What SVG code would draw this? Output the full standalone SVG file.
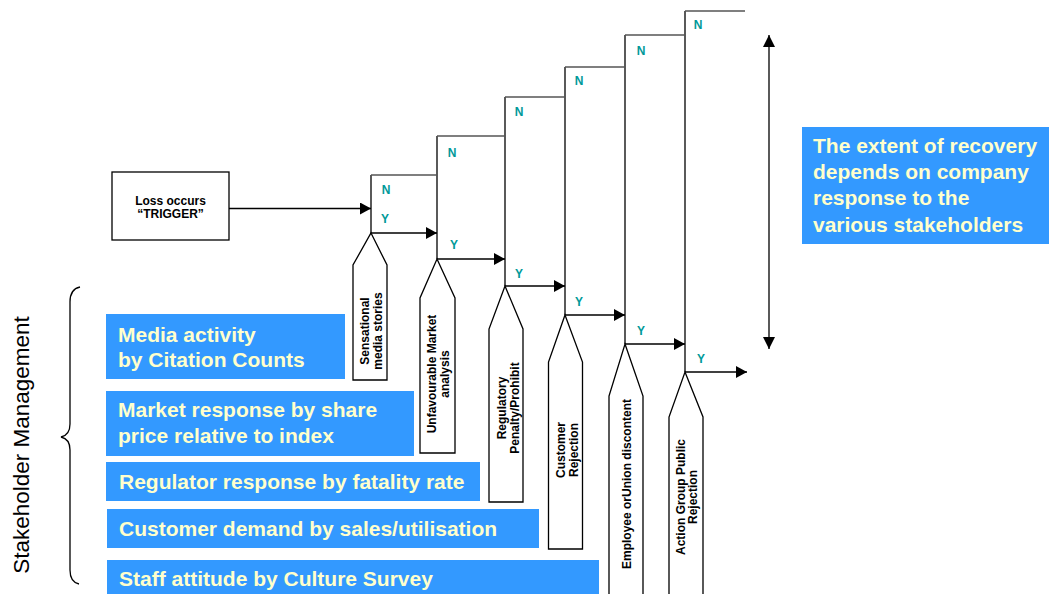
<svg xmlns="http://www.w3.org/2000/svg" width="1049" height="594" viewBox="0 0 1049 594">
<style>
  .ln { stroke:#000; stroke-width:1.3; fill:none; }
  .tp { stroke:#555; stroke-width:1.6; fill:none; }
  .box { fill:#fff; stroke:#000; stroke-width:1.3; }
  .tag { fill:#fff; stroke:#000; stroke-width:1.3; }
  .t12 { font-family:"Liberation Sans", Arial, sans-serif; font-size:12px; font-weight:bold; fill:#000; text-anchor:middle; }
  .ny { font-family:"Liberation Sans", Arial, sans-serif; font-size:12px; font-weight:bold; fill:#009999; text-anchor:middle; }
  .blue { fill:#3399FF; }
  .bt { font-family:"Liberation Sans", Arial, sans-serif; font-size:21px; font-weight:bold; fill:#FFFFCC; }
  .side { font-family:"Liberation Sans", Arial, sans-serif; font-size:22.5px; fill:#000; text-anchor:middle; }
</style>
<defs>
  <marker id="ah" markerUnits="userSpaceOnUse" markerWidth="11" markerHeight="12" viewBox="0 0 11 12" refX="11" refY="6" orient="auto">
    <path d="M0,0 L11,6 L0,12 z" fill="#000"/>
  </marker>
  <marker id="ah2" markerUnits="userSpaceOnUse" markerWidth="12" markerHeight="12" viewBox="0 0 12 12" refX="12" refY="6" orient="auto-start-reverse">
    <path d="M0,0 L12,6 L0,12 z" fill="#000"/>
  </marker>
</defs>

<!-- Trigger -->
<g id="trigger">
  <rect class="box" x="112" y="172" width="117" height="68"/>
  <text class="t12" x="170.5" y="205">Loss occurs</text>
  <text class="t12" x="170.5" y="218">“TRIGGER”</text>
</g>

<!-- Connectors -->
<g id="connectors">
  <line class="ln" x1="229" y1="208.5" x2="371" y2="208.5" marker-end="url(#ah)"/>
  <!-- verticals -->
  <line class="ln" x1="371" y1="175" x2="371" y2="233"/>
  <line class="ln" x1="437" y1="136" x2="437" y2="259"/>
  <line class="ln" x1="505" y1="97" x2="505" y2="286"/>
  <line class="ln" x1="565" y1="67" x2="565" y2="315"/>
  <line class="ln" x1="625" y1="35" x2="625" y2="344"/>
  <line class="ln" x1="685" y1="11" x2="685" y2="372"/>
  <!-- tops (N) -->
  <line class="tp" x1="371" y1="175" x2="437" y2="175"/>
  <line class="tp" x1="437" y1="136" x2="505" y2="136"/>
  <line class="tp" x1="505" y1="97" x2="565" y2="97"/>
  <line class="tp" x1="565" y1="67" x2="625" y2="67"/>
  <line class="tp" x1="625" y1="35" x2="685" y2="35"/>
  <line class="tp" x1="685" y1="11" x2="745" y2="11"/>
  <!-- Y arrows -->
  <line class="ln" x1="371" y1="233" x2="437" y2="233" marker-end="url(#ah)"/>
  <line class="ln" x1="437" y1="259" x2="505" y2="259" marker-end="url(#ah)"/>
  <line class="ln" x1="505" y1="286" x2="565" y2="286" marker-end="url(#ah)"/>
  <line class="ln" x1="565" y1="315" x2="625" y2="315" marker-end="url(#ah)"/>
  <line class="ln" x1="625" y1="344" x2="685" y2="344" marker-end="url(#ah)"/>
  <line class="ln" x1="685" y1="372" x2="747" y2="372" marker-end="url(#ah)"/>
  <!-- extent double arrow -->
  <line class="ln" x1="769" y1="35" x2="769" y2="349" marker-start="url(#ah2)" marker-end="url(#ah2)"/>
</g>

<!-- N / Y labels -->
<g id="ny-labels">
  <text class="ny" x="386" y="193.5">N</text>
  <text class="ny" x="385" y="222.5">Y</text>
  <text class="ny" x="452" y="156.5">N</text>
  <text class="ny" x="454" y="248.5">Y</text>
  <text class="ny" x="519" y="115.5">N</text>
  <text class="ny" x="519" y="277.5">Y</text>
  <text class="ny" x="579" y="84.5">N</text>
  <text class="ny" x="579" y="305.5">Y</text>
  <text class="ny" x="641" y="54.5">N</text>
  <text class="ny" x="641" y="334.5">Y</text>
  <text class="ny" x="698" y="28.5">N</text>
  <text class="ny" x="701" y="362.5">Y</text>
</g>

<!-- Tags -->
<g id="tag-media">
  <path class="tag" d="M371,233 L387,265 L387,380 L353,380 L353,265 Z"/>
  <text class="t12" transform="translate(369,331) rotate(-90)">Sensational</text>
  <text class="t12" transform="translate(382,331) rotate(-90)">media stories</text>
</g>
<g id="tag-market">
  <path class="tag" d="M437,259 L455,298 L455,453 L420,453 L420,298 Z"/>
  <text class="t12" transform="translate(436,374) rotate(-90)">Unfavourable Market</text>
  <text class="t12" transform="translate(449,374) rotate(-90)">analysis</text>
</g>
<g id="tag-regulatory">
  <path class="tag" d="M505,286 L523,329 L523,502 L489,502 L489,329 Z"/>
  <text class="t12" transform="translate(505.5,408) rotate(-90)">Regulatory</text>
  <text class="t12" transform="translate(518.5,408) rotate(-90)">Penalty/Prohibit</text>
</g>
<g id="tag-customer">
  <path class="tag" d="M565,315 L582.5,362 L582.5,549 L548.5,549 L548.5,362 Z"/>
  <text class="t12" transform="translate(565,450) rotate(-90)">Customer</text>
  <text class="t12" transform="translate(578,450) rotate(-90)">Rejection</text>
</g>
<g id="tag-employee">
  <path class="tag" d="M625,344 L643,396 L643,600 L609,600 L609,396 Z"/>
  <text class="t12" transform="translate(631,484) rotate(-90)">Employee orUnion discontent</text>
</g>
<g id="tag-action">
  <path class="tag" d="M685,372 L703,417 L703,600 L669,600 L669,417 Z"/>
  <text class="t12" transform="translate(684.5,497) rotate(-90)">Action Group Public</text>
  <text class="t12" transform="translate(697,497) rotate(-90)">Rejection</text>
</g>

<!-- Blue measure boxes -->
<g id="m-media">
  <rect class="blue" x="106" y="314" width="239" height="65"/>
  <text class="bt" x="118" y="342">Media activity</text>
  <text class="bt" x="118" y="367">by Citation Counts</text>
</g>
<g id="m-market">
  <rect class="blue" x="106" y="391" width="308" height="65"/>
  <text class="bt" x="118" y="417">Market response by share</text>
  <text class="bt" x="118" y="443">price relative to index</text>
</g>
<g id="m-regulator">
  <rect class="blue" x="106" y="462" width="374" height="39"/>
  <text class="bt" x="119" y="489">Regulator response by fatality rate</text>
</g>
<g id="m-customer">
  <rect class="blue" x="107" y="509" width="432" height="39"/>
  <text class="bt" x="119" y="536">Customer demand by sales/utilisation</text>
</g>
<g id="m-staff">
  <rect class="blue" x="107" y="560" width="492" height="40"/>
  <text class="bt" x="119" y="586">Staff attitude by Culture Survey</text>
</g>

<!-- Recovery note -->
<g id="recovery">
  <rect class="blue" x="802" y="127" width="250" height="117"/>
  <text class="bt" x="813" y="153">The extent of recovery</text>
  <text class="bt" x="813" y="179">depends on company</text>
  <text class="bt" x="813" y="205">response to the</text>
  <text class="bt" x="813" y="232">various stakeholders</text>
</g>

<!-- Stakeholder management brace + label -->
<g id="stakeholder">
  <text class="side" transform="translate(29,445) rotate(-90)">Stakeholder Management</text>
  <path class="ln" d="M80,287 Q70,289 70,302 L70,424 Q70,435 61,437 Q70,439 70,450 L70,570 Q70,582 79,584"/>
</g>
</svg>
